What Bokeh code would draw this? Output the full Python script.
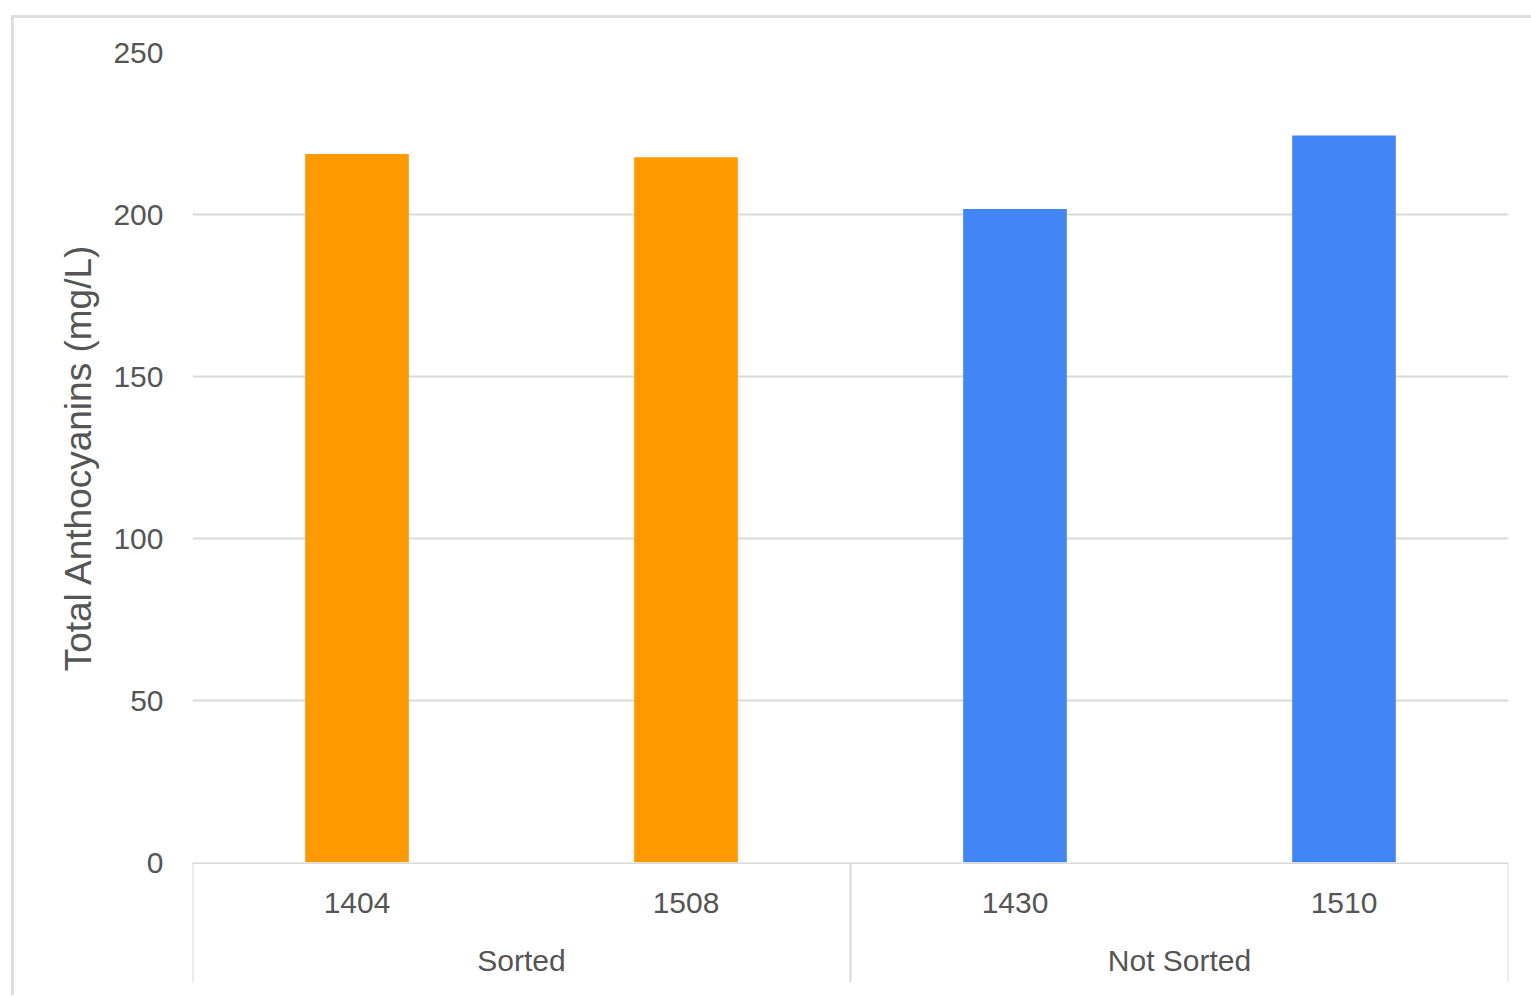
from bokeh.plotting import figure
from bokeh.layouts import column
from bokeh.models import Range1d, FactorRange, FixedTicker, ColumnDataSource
from bokeh.core.properties import value
from bokeh.embed import file_html
from bokeh.resources import INLINE

# ---- data ----
categories = ["1404", "1508", "1430", "1510"]
groups = ["Sorted", "Sorted", "Not Sorted", "Not Sorted"]
values = [218.7, 217.7, 201.7, 224.4]
group_names = ["Sorted", "Not Sorted"]
group_colors = {"Sorted": "#FF9900", "Not Sorted": "#4285F4"}
y_ticks = [0, 50, 100, 150, 200, 250]
y_title = "Total Anthocyanins (mg/L)"

FONT = "Liberation Sans"
TXT = "#555555"
GRID = "#d9d9d9"

xr = FactorRange(factors=categories, range_padding=0)

# ---- main plot ----
p = figure(
    width=1517, height=864,
    x_range=xr, y_range=Range1d(0, 250),
    output_backend="svg", toolbar_location=None,
    min_border_left=178, min_border_right=23,
    min_border_top=34, min_border_bottom=20,
)
p.outline_line_color = None
p.background_fill_color = "white"
p.border_fill_color = "white"

src = ColumnDataSource(dict(
    x=categories, top=values, g=groups,
    color=[group_colors[g] for g in groups],
))
p.vbar(x="x", top="top", bottom=0, width=0.315, color="color", source=src, line_color=None)

p.xgrid.visible = False
p.ygrid.ticker = FixedTicker(ticks=y_ticks)
p.ygrid.grid_line_color = GRID
p.ygrid.grid_line_width = 2

p.yaxis.ticker = FixedTicker(ticks=y_ticks)
p.yaxis.axis_line_color = None
p.yaxis.major_tick_line_color = None
p.yaxis.major_tick_out = 0
p.yaxis.major_tick_in = 0
p.yaxis.minor_tick_line_color = None
p.yaxis.major_label_text_font = FONT
p.yaxis.major_label_text_font_size = "30px"
p.yaxis.major_label_text_color = TXT
p.yaxis.major_label_standoff = 29
p.yaxis.axis_label = y_title
p.yaxis.axis_label_text_font = FONT
p.yaxis.axis_label_text_font_size = "37px"
p.yaxis.axis_label_text_font_style = "normal"
p.yaxis.axis_label_text_color = TXT
p.yaxis.axis_label_standoff = 11
p.xaxis.visible = False

# ---- category (grouped) axis strip, overlapping the main plot's bottom border ----
q = figure(
    width=1517, height=133,
    x_range=xr, y_range=Range1d(-38, 0),
    output_backend="svg", toolbar_location=None,
    min_border_left=178, min_border_right=23,
    min_border_top=0, min_border_bottom=10,
)
q.margin = (-20, 0, 0, 0)
q.outline_line_color = None
q.axis.visible = False
q.grid.visible = False
q.background_fill_alpha = 0
q.border_fill_alpha = 0

n = len(categories)
seps = [(categories[0], -0.5)]
for i in range(1, n):
    if groups[i] != groups[i - 1]:
        seps.append((categories[i], -0.5))
seps.append((categories[-1], 0.5))
q.segment(x0=seps, y0=[0] * len(seps), x1=seps, y1=[-37] * len(seps),
          line_color=GRID, line_width=2)
q.segment(x0=[(categories[0], -0.5)], y0=[0], x1=[(categories[-1], 0.5)], y1=[0],
          line_color=GRID, line_width=3)

q.text(x=categories, y=[-12.4] * n, text=categories,
       text_font=value(FONT), text_font_size="30px", text_color=TXT,
       text_align="center", text_baseline="middle")

gx, gl = [], []
for gname in group_names:
    idx = [i for i, g in enumerate(groups) if g == gname]
    mid = len(idx) // 2
    gx.append((categories[idx[mid]], -0.5) if len(idx) % 2 == 0 else categories[idx[mid]])
    gl.append(gname)
q.text(x=gx, y=[-30.3] * len(gx), text=gl,
       text_font=value(FONT), text_font_size="30px", text_color=TXT,
       text_align="center", text_baseline="middle")

layout = column(p, q, spacing=0)
layout.margin = (15, 0, 0, 11)
layout.styles = {"border-top": "3px solid #dedede", "border-left": "3px solid #dedede",
                 "background-color": "white"}

open("out.html", "w").write(file_html(layout, INLINE))
